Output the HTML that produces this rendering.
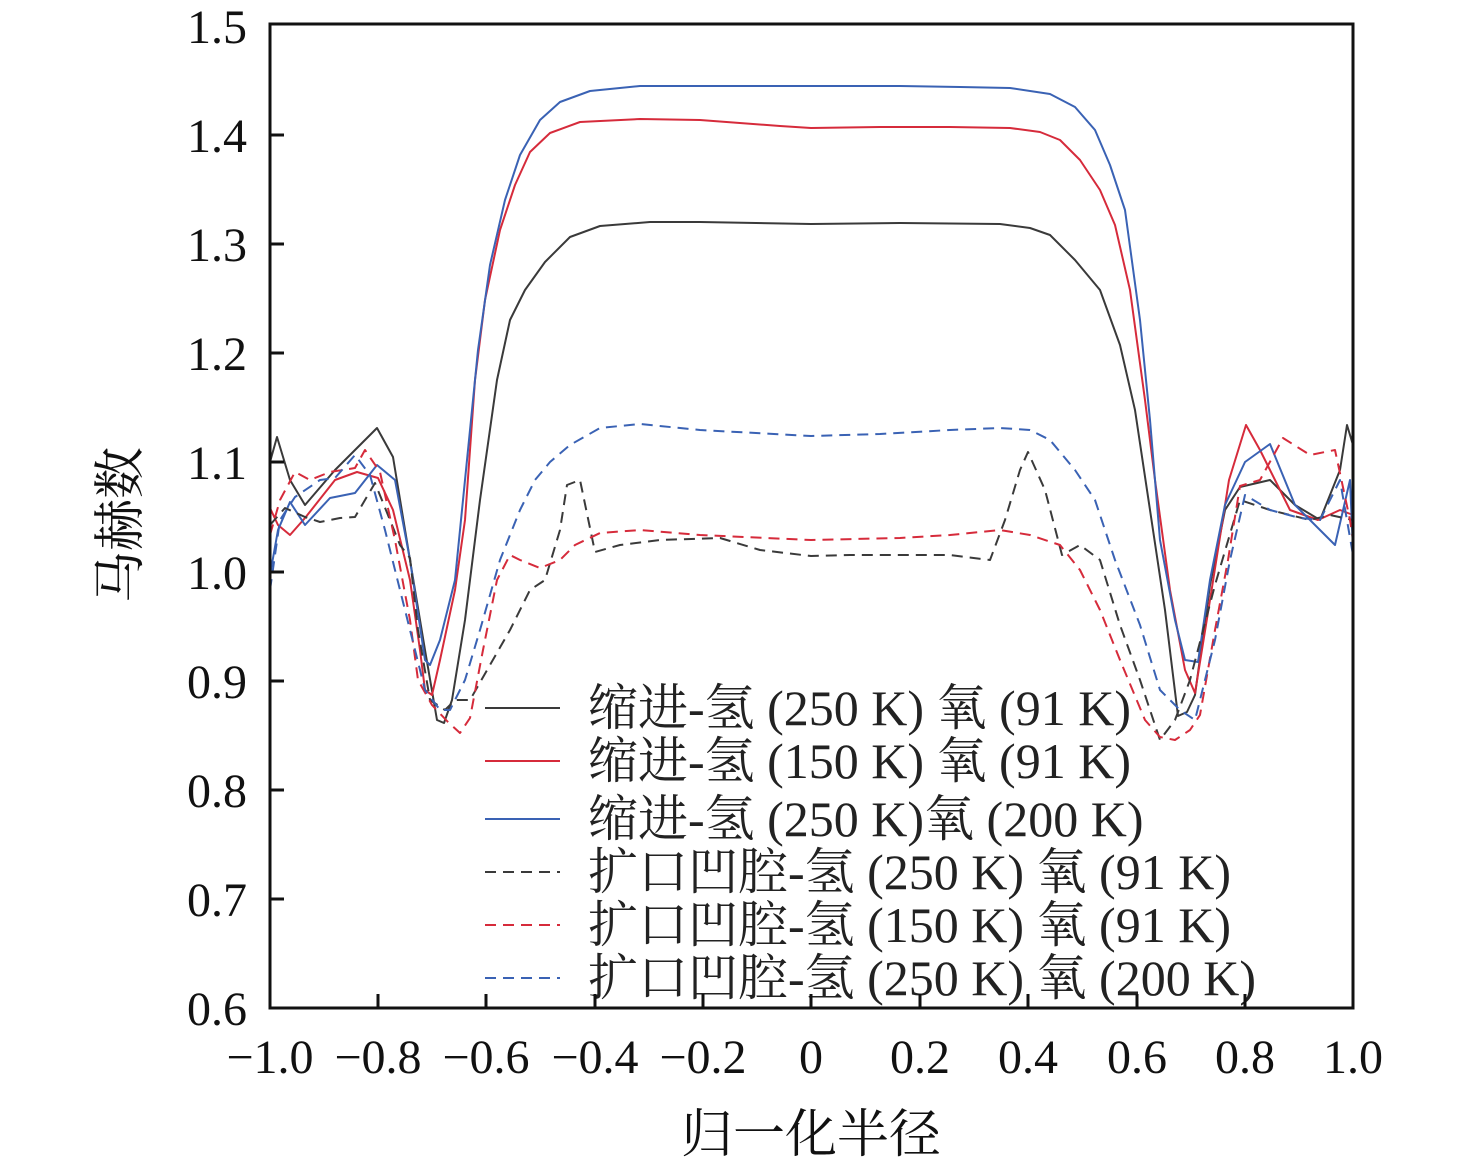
<!DOCTYPE html>
<html><head><meta charset="utf-8"><style>body{margin:0;background:#fff}svg{display:block}</style></head><body>
<svg width="1476" height="1161" xmlns="http://www.w3.org/2000/svg" font-family="'Liberation Serif','Noto Serif CJK SC',serif">
<rect width="1476" height="1161" fill="#fff"/>
<g fill="none" stroke-width="2" stroke-linejoin="round">
<polyline stroke="#3a3a3a" points="270,462 277,437 290,480 305,505 335,470 377,428 393,457 410,560 425,650 437,720 444,723 452,700 465,620 480,500 497,380 510,320 525,290 545,262 570,237 600,226 650,222 700,222 811,224 900,223 1000,224 1030,228 1050,235 1075,260 1100,290 1120,345 1135,410 1150,510 1165,610 1178,716 1187,712 1195,695 1210,585 1225,510 1240,487 1270,480 1295,505 1320,520 1340,470 1347,425 1353,445"/>
<polyline stroke="#d62b3b" points="270,508 278,525 290,535 305,518 335,480 357,472 378,478 393,510 410,580 420,650 425,690 432,695 440,660 455,590 465,520 475,380 485,300 500,230 515,185 530,152 550,133 580,122 640,119 700,120 780,126 811,128 880,127 950,127 1010,128 1040,132 1060,140 1080,160 1100,190 1115,225 1130,290 1145,400 1155,480 1170,590 1185,670 1195,693 1210,600 1229,480 1246,425 1260,450 1290,510 1318,520 1340,510 1353,515"/>
<polyline stroke="#3a62b4" points="270,575 278,530 290,502 305,525 330,498 355,493 377,465 395,480 410,560 425,660 430,665 440,640 455,580 468,450 478,350 490,265 505,200 520,155 540,120 560,102 590,91 640,86 700,86 811,86 900,86 960,87 1010,88 1050,94 1075,107 1095,130 1110,165 1125,210 1140,320 1150,420 1160,540 1175,620 1185,660 1198,662 1210,580 1225,505 1245,462 1270,444 1295,505 1320,530 1335,545 1350,480 1353,550"/>
<g stroke-dasharray="11,7">
<polyline stroke="#3a3a3a" points="270,525 285,508 305,517 320,522 340,518 355,517 375,483 390,520 400,545 410,558 418,630 430,700 445,710 455,700 470,700 490,665 510,630 530,590 545,580 560,530 567,485 580,480 595,552 620,545 660,540 720,538 760,550 811,556 850,555 900,555 950,555 990,560 1005,520 1020,470 1028,452 1045,490 1062,555 1080,545 1100,560 1120,625 1140,680 1160,740 1175,720 1190,680 1215,585 1240,500 1270,510 1310,520 1330,515 1353,520"/>
<polyline stroke="#d62b3b" points="270,535 280,500 295,472 310,480 330,472 355,468 365,450 380,472 395,540 410,620 418,680 432,705 448,722 460,733 470,718 483,650 497,580 510,555 520,560 540,568 560,560 575,545 600,533 640,530 700,535 811,540 900,538 950,535 1000,530 1030,535 1060,545 1080,570 1100,610 1120,660 1145,720 1160,737 1175,740 1190,730 1200,715 1215,630 1228,560 1240,486 1260,480 1283,438 1310,455 1335,450 1350,520 1353,540"/>
<polyline stroke="#3a62b4" points="270,590 280,520 295,497 320,480 335,478 355,455 370,475 385,530 400,590 410,630 425,690 440,710 450,710 465,680 480,630 500,560 520,510 535,480 550,462 570,445 600,428 640,424 700,430 811,436 880,434 950,430 1000,428 1030,430 1050,440 1075,470 1095,500 1115,560 1140,625 1160,690 1180,710 1195,720 1215,640 1230,560 1245,495 1270,510 1300,518 1320,520 1340,480 1353,555"/>
</g>
</g>
<g stroke-width="2">
<line x1="485" y1="708" x2="560" y2="708" stroke="#3a3a3a"/>
<line x1="485" y1="761" x2="560" y2="761" stroke="#d62b3b"/>
<line x1="485" y1="819" x2="560" y2="819" stroke="#3a62b4"/>
<g stroke-dasharray="11,7">
<line x1="485" y1="872" x2="560" y2="872" stroke="#3a3a3a"/>
<line x1="485" y1="925" x2="560" y2="925" stroke="#d62b3b"/>
<line x1="485" y1="978" x2="560" y2="978" stroke="#3a62b4"/>
</g></g>
<g font-size="50" fill="#222">
<text x="588" y="725">缩进-氢 (250 K) 氧 (91 K)</text>
<text x="588" y="778">缩进-氢 (150 K) 氧 (91 K)</text>
<text x="588" y="836">缩进-氢 (250 K)氧 (200 K)</text>
<text x="588" y="889">扩口凹腔-氢 (250 K) 氧 (91 K)</text>
<text x="588" y="942">扩口凹腔-氢 (150 K) 氧 (91 K)</text>
<text x="588" y="995">扩口凹腔-氢 (250 K) 氧 (200 K)</text>
</g>
<rect x="270" y="24" width="1083" height="984" fill="none" stroke="#111" stroke-width="3"/>
<g stroke="#111" stroke-width="3">
<line x1="270" y1="135" x2="284" y2="135"/><line x1="270" y1="244" x2="284" y2="244"/><line x1="270" y1="353" x2="284" y2="353"/><line x1="270" y1="462" x2="284" y2="462"/><line x1="270" y1="572" x2="284" y2="572"/><line x1="270" y1="681" x2="284" y2="681"/><line x1="270" y1="790" x2="284" y2="790"/><line x1="270" y1="899" x2="284" y2="899"/>
<line x1="378" y1="1008" x2="378" y2="994"/><line x1="486" y1="1008" x2="486" y2="994"/><line x1="595" y1="1008" x2="595" y2="994"/><line x1="703" y1="1008" x2="703" y2="994"/><line x1="811" y1="1008" x2="811" y2="994"/><line x1="920" y1="1008" x2="920" y2="994"/><line x1="1028" y1="1008" x2="1028" y2="994"/><line x1="1137" y1="1008" x2="1137" y2="994"/><line x1="1245" y1="1008" x2="1245" y2="994"/>
</g>
<g font-size="48" fill="#111" text-anchor="end">
<text x="247" y="43">1.5</text><text x="247" y="152">1.4</text><text x="247" y="261">1.3</text><text x="247" y="370">1.2</text><text x="247" y="479">1.1</text><text x="247" y="589">1.0</text><text x="247" y="698">0.9</text><text x="247" y="807">0.8</text><text x="247" y="916">0.7</text><text x="247" y="1025">0.6</text>
</g>
<g font-size="48" fill="#111" text-anchor="middle">
<text x="270" y="1073">−1.0</text><text x="378" y="1073">−0.8</text><text x="486" y="1073">−0.6</text><text x="595" y="1073">−0.4</text><text x="703" y="1073">−0.2</text><text x="811" y="1073">0</text><text x="920" y="1073">0.2</text><text x="1028" y="1073">0.4</text><text x="1137" y="1073">0.6</text><text x="1245" y="1073">0.8</text><text x="1353" y="1073">1.0</text>
<text x="811" y="1152" font-size="52">归一化半径</text>
<text transform="translate(138,525) rotate(-90)" font-size="52">马赫数</text>
</g>
</svg>
</body></html>
